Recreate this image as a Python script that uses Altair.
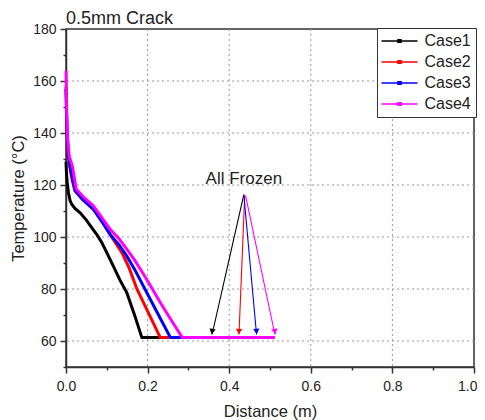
import math
import altair as alt
import pandas as pd

# ---- data ----
case1_x = [0, 0.001, 0.003, 0.006, 0.010, 0.014, 0.022, 0.034, 0.050, 0.063, 0.076, 0.088,
           0.100, 0.116, 0.132, 0.149, 0.168, 0.186, 0.250, 0.358]
case1_t = [129, 125, 121, 117, 114, 112.6, 111, 109.4, 106.5, 103.6, 100.8, 97.8,
           94, 88.8, 83.5, 78.6, 70, 61.3, 61.3, 61.3]

case2_x = [0, 0.001, 0.002, 0.004, 0.008, 0.015, 0.022, 0.040, 0.067, 0.090, 0.108, 0.137,
           0.155, 0.174, 0.200, 0.231, 0.300, 0.424]
case2_t = [158, 150, 142, 135, 128, 122, 117.7, 114.5, 110.7, 105.5, 101, 94,
           88, 79.9, 71.5, 61.3, 61.3, 61.3]

case3_x = [0, 0.001, 0.002, 0.004, 0.008, 0.015, 0.022, 0.040, 0.067, 0.090, 0.108, 0.130,
           0.149, 0.170, 0.190, 0.220, 0.256, 0.300, 0.467]
case3_t = [157, 150, 143, 136, 129, 123, 118, 114.5, 110.7, 105.5, 101, 97,
           92.7, 87, 81, 72, 61.3, 61.3, 61.3]

case4_x = [0, 0.001, 0.002, 0.004, 0.008, 0.016, 0.025, 0.045, 0.067, 0.090, 0.108, 0.130,
           0.149, 0.170, 0.190, 0.210, 0.231, 0.260, 0.285, 0.350, 0.512]
case4_t = [164, 155, 147, 138, 131, 127, 118.5, 115, 112, 107, 103, 99.3,
           95.3, 90.7, 85.7, 80.5, 74.8, 67.5, 61.3, 61.3, 61.3]

cases = ["Case1", "Case2", "Case3", "Case4"]
colors = ["#000000", "#ff0000", "#0000ff", "#ff00ff"]

arrow_tail_x = [0.436, 0.438, 0.436, 0.440]
arrow_tail_t = [116.4, 116.0, 116.0, 116.0]
arrow_head_x = [0.358, 0.424, 0.467, 0.512]
arrow_head_t = [62.5, 62.5, 62.5, 62.5]

label_text = ["All Frozen"]
label_x = [0.436]
label_t = [122.5]

x_ticks = [round(i * 0.1, 1) for i in range(11)]
y_ticks = list(range(50, 190, 10))
grid_x = [0.2, 0.4, 0.6, 0.8]
grid_y = [60, 80, 100, 120, 140, 160]

# ---- build tables ----
rows = []
for name, xs, ts in zip(cases, [case1_x, case2_x, case3_x, case4_x],
                        [case1_t, case2_t, case3_t, case4_t]):
    for i, (x, t) in enumerate(zip(xs, ts)):
        rows.append({"case": name, "x": x, "t": t, "order": i})
df = pd.DataFrame(rows)

W, H = 408, 338
sx = W / 1.0
sy = H / 130.0
arr = []
for name, tx, tt, hx, ht in zip(cases, arrow_tail_x, arrow_tail_t, arrow_head_x, arrow_head_t):
    dx = (hx - tx) * sx
    dy = (tt - ht) * sy
    ang = math.degrees(math.atan2(-dx, dy)) % 360
    arr.append({"case": name, "x": tx, "t": tt, "x2": hx, "t2": ht, "ang": ang})
adf = pd.DataFrame(arr)
ldf = pd.DataFrame({"text": label_text, "x": label_x, "t": label_t})
gxdf = pd.DataFrame({"x": grid_x})
gydf = pd.DataFrame({"t": grid_y})

FONT = "Liberation Sans"
TXT = "#222222"

xscale = alt.Scale(domain=[0, 1], nice=False, zero=False)
yscale = alt.Scale(domain=[50, 180], nice=False, zero=False)
cscale = alt.Scale(domain=cases, range=colors)

XMAJ = "round(datum.value*10) % 2 == 0"
YMAJ = "round(datum.value) % 20 == 0"
XEND = "datum.value >= 0.99"
x_axis = alt.Axis(
    values=x_ticks, grid=False, labelFlush=False,
    labelExpr="round(datum.value*10) % 2 == 0 ? format(datum.value, '.1f') : ''",
    labelAlign={"condition": {"test": XEND, "value": "right"}, "value": "center"},
    labelOffset={"condition": {"test": XEND, "value": 3}, "value": 0},
    title="Distance (m)",
    tickSize={"condition": {"test": XMAJ, "value": 6}, "value": 3},
)
y_axis = alt.Axis(
    values=y_ticks, grid=False, labelFlush=False,
    labelExpr="round(datum.value) % 20 == 0 ? format(datum.value, 'd') : ''",
    title="Temperature (°C)",
    tickSize={"condition": {"test": YMAJ, "value": 6}, "value": 3},
)

gridx = alt.Chart(gxdf).mark_rule(color="#9a9a9a", strokeDash=[2, 3], strokeWidth=1).encode(
    x=alt.X("x:Q", scale=xscale, axis=x_axis),
)
gridy = alt.Chart(gydf).mark_rule(color="#9a9a9a", strokeDash=[2, 3], strokeWidth=1).encode(
    y=alt.Y("t:Q", scale=yscale, axis=y_axis),
)

lines = alt.Chart(df).mark_line(strokeWidth=3).encode(
    x=alt.X("x:Q", scale=xscale, axis=x_axis),
    y=alt.Y("t:Q", scale=yscale, axis=y_axis),
    color=alt.Color("case:N", scale=cscale, legend=alt.Legend(
        title=None, orient="none", legendX=311, legendY=-1,
        strokeColor="#333333", fillColor="white", padding=5,
        symbolType="M-3,0H3M-0.25,-0.2H0.25V0.2H-0.25Z", symbolSize=144,
        symbolStrokeWidth=1.6, symbolOffset=9.5, labelOffset=17,
        labelFontSize=16, labelFont=FONT, labelColor=TXT,
        rowPadding=5)),
    order="order:Q",
)

rules = alt.Chart(adf).mark_rule(strokeWidth=1.1).encode(
    x=alt.X("x:Q", scale=xscale, axis=x_axis), x2="x2:Q",
    y=alt.Y("t:Q", scale=yscale, axis=y_axis), y2="t2:Q",
    color=alt.Color("case:N", scale=cscale, legend=None),
)
heads = alt.Chart(adf).mark_point(shape="triangle-down", filled=True, opacity=1,
                                  size=40, yOffset=-3).encode(
    x=alt.X("x2:Q", scale=xscale, axis=x_axis),
    y=alt.Y("t2:Q", scale=yscale, axis=y_axis),
    angle=alt.Angle("ang:Q", scale=None),
    color=alt.Color("case:N", scale=cscale, legend=None),
)
label = alt.Chart(ldf).mark_text(fontSize=17, font=FONT, color=TXT,
                                 align="center", baseline="middle").encode(
    x=alt.X("x:Q", scale=xscale, axis=x_axis),
    y=alt.Y("t:Q", scale=yscale, axis=y_axis),
    text="text:N",
)

chart = alt.layer(gridx, gridy, lines, rules, heads, label).properties(
    width=W, height=H,
    title=alt.TitleParams("0.5mm Crack", anchor="start", frame="group", fontSize=18,
                          font=FONT, fontWeight="normal", color=TXT, offset=-6),
    autosize=alt.AutoSizeParams(type="none"),
    padding={"left": 58, "top": 21, "right": 3, "bottom": 54},
).configure_view(
    stroke="#333333", strokeWidth=1.5
).configure_axis(
    labelFont=FONT, labelFontSize=14, labelColor=TXT,
    titleFont=FONT, titleFontSize=16.5, titleColor=TXT, titleFontWeight="normal",
    domainColor="#333333", domainWidth=1.5, tickColor="#333333", tickWidth=1.5,
).configure_axisX(
    labelPadding=6, titlePadding=10,
).configure_axisY(
    labelPadding=4, titlePadding=6,
)

chart.save("out.html", embed_options={"renderer": "svg", "actions": False})
